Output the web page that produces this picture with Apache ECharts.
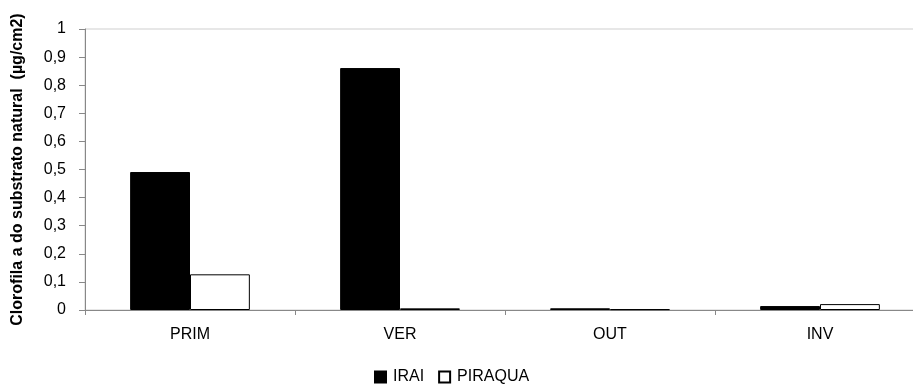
<!DOCTYPE html>
<html>
<head>
<meta charset="utf-8">
<script src="https://cdn.jsdelivr.net/npm/echarts@6/dist/echarts.min.js"></script>
<style>html,body{margin:0;padding:0;background:#fff;overflow:hidden}#c{width:940px;height:388px}</style>
</head>
<body>
<div id="c"></div>
<script>
var categories = ['PRIM', 'VER', 'OUT', 'INV'];
var irai = [0.491, 0.861, 0.006, 0.014];
var piraqua = [0.127, 0.006, 0.003, 0.021];
var yTicks = ['0', '0,1', '0,2', '0,3', '0,4', '0,5', '0,6', '0,7', '0,8', '0,9', '1'];

var chart = echarts.init(document.getElementById('c'), null, {renderer: 'canvas'});
var font = 'Liberation Sans, Arial, sans-serif';
chart.setOption({
  animation: false,
  backgroundColor: '#ffffff',
  grid: {left: 85, top: 29, width: 840, height: 281, show: true, borderColor: '#cfcfcf', borderWidth: 1, backgroundColor: 'transparent'},
  legend: {
    top: 364, left: 369, itemWidth: 11, itemHeight: 11, itemGap: 14,
    textStyle: {fontFamily: font, fontSize: 16, color: '#000', padding: [0, 0, 0, 2]},
    data: [{name: 'IRAI', icon: 'rect'}, {name: 'PIRAQUA', icon: 'rect'}]
  },
  xAxis: {
    type: 'category', data: categories,
    axisLine: {lineStyle: {color: '#888', width: 1}},
    axisTick: {show: true, alignWithLabel: false, length: 5, lineStyle: {color: '#888'}},
    axisLabel: {fontFamily: font, fontSize: 16, color: '#000', margin: 17}
  },
  yAxis: {
    type: 'value', min: 0, max: 1, interval: 0.1,
    name: 'Clorofila a do substrato natural  (µg/cm2)',
    nameLocation: 'middle', nameGap: 59, nameRotate: 90,
    nameTextStyle: {fontFamily: font, fontSize: 16, fontWeight: 'bold', color: '#000'},
    axisLine: {show: true, lineStyle: {color: '#888', width: 1}},
    axisTick: {show: true, length: 6, lineStyle: {color: '#888'}},
    splitLine: {show: false},
    axisLabel: {fontFamily: font, fontSize: 16, color: '#000', margin: 19,
      formatter: function (v) { return yTicks[Math.round(v * 10)]; }}
  },
  series: [
    {name: 'IRAI', type: 'bar', data: irai, barGap: '0%', barCategoryGap: '43%',
      itemStyle: {color: '#000', borderColor: '#000', borderWidth: 1}},
    {name: 'PIRAQUA', type: 'bar', data: piraqua,
      itemStyle: {color: '#fff', borderColor: '#000', borderWidth: 1}}
  ]
});
</script>
</body>
</html>
